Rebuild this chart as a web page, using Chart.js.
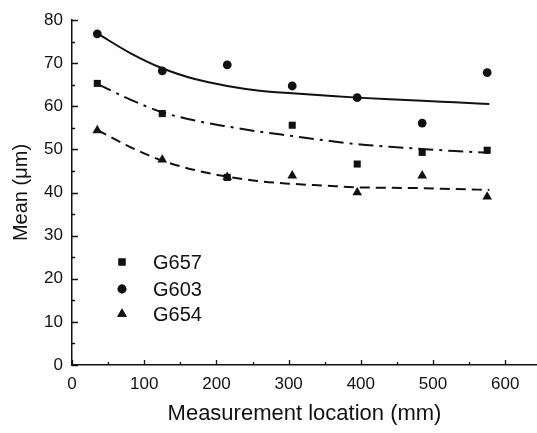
<!DOCTYPE html>
<html>
<head>
<meta charset="utf-8">
<title>Mean vs measurement location</title>
<script src="https://cdn.jsdelivr.net/npm/chart.js@4/dist/chart.umd.min.js"></script>
<style>
    html, body { margin: 0; padding: 0; background: #fff; }
    #chart-wrap { width: 537px; height: 433px; }
</style>
</head>
<body>
<div id="chart-wrap"><canvas id="chart-mean" width="537" height="433"></canvas></div>
<script>
// =====================================================
// DATA
// =====================================================

const seriesNames = ['G657', 'G603', 'G654'];

// measurement locations (mm)
const locations = [35, 125, 215, 305, 395, 485, 575];

// measured means (um)
const g657Values = [65.3, 58.3, 43.5, 55.6, 46.6, 49.3, 49.8];
const g603Values = [76.8, 68.2, 69.6, 64.7, 62.0, 56.1, 67.8];
const g654Values = [54.4, 47.6, 43.6, 43.9, 40.0, 43.9, 39.0];

// fitted curves
const fitLocations = [35, 80, 125, 170, 215, 260, 305, 350, 395, 440, 485, 530, 578];
const g657Fit = [65.2, 61.6, 58.6, 56.7, 55.3, 54.1, 53.1, 52.1, 51.2, 50.6, 50.1, 49.6, 49.2];
const g603Fit = [76.9, 72.4, 68.8, 66.3, 64.7, 63.6, 63.0, 62.5, 62.0, 61.6, 61.3, 60.9, 60.5];
const g654Fit = [54.5, 50.6, 47.4, 45.2, 43.7, 42.6, 42.0, 41.6, 41.2, 41.1, 41.0, 40.8, 40.6];

// axis ticks
const xTicks = [0, 100, 200, 300, 400, 500, 600];
const xMinorTicks = [50, 150, 250, 350, 450, 550];
const yTicks = [0, 10, 20, 30, 40, 50, 60, 70, 80];
const yMinorTicks = [5, 15, 25, 35, 45, 55, 65, 75];

// =====================================================
// CONFIG
// =====================================================

const ChartConfig = {
    canvasId: 'chart-mean',
    ink: '#111111',
    font: "'Liberation Sans', Arial, sans-serif",
    xMax: 644,
    markers: {
        G657: { style: 'rect', radius: 5 },
        G603: { style: 'circle', radius: 4.4 },
        G654: { style: 'triangle', radius: 5.6 }
    },
    legend: { markerX: 50, textX: 81, rows: [242, 269, 294] }
};

function toPoints(xs, ys) {
    return xs.map((x, i) => ({ x: x, y: ys[i] }));
}

/**
 * Scatter dataset for one sample
 */
function markerDataset(name, values) {
    const m = ChartConfig.markers[name];
    return {
        label: name,
        data: toPoints(locations, values),
        showLine: false,
        pointStyle: m.style,
        pointRadius: m.radius,
        pointHoverRadius: m.radius,
        pointBackgroundColor: ChartConfig.ink,
        pointBorderColor: ChartConfig.ink,
        pointBorderWidth: 0
    };
}

/**
 * Fitted line for one sample
 */
function fitDataset(name, values, dash) {
    return {
        label: name + ' fit',
        data: toPoints(fitLocations, values),
        showLine: true,
        borderColor: ChartConfig.ink,
        borderWidth: 2,
        borderDash: dash,
        cubicInterpolationMode: 'monotone',
        pointRadius: 0,
        pointHoverRadius: 0,
        fill: false
    };
}

// =====================================================
// PLUGINS
// =====================================================

// inward major / minor ticks like the original plot
const inwardTicks = {
    id: 'inwardTicks',
    afterDraw(chart) {
        const ctx = chart.ctx;
        const xs = chart.scales.x;
        const ys = chart.scales.y;
        const area = chart.chartArea;
        ctx.save();
        ctx.strokeStyle = ChartConfig.ink;
        ctx.lineWidth = 1.3;
        ctx.beginPath();
        xTicks.forEach(v => {
            const px = Math.round(xs.getPixelForValue(v)) + 0.5;
            ctx.moveTo(px, area.bottom); ctx.lineTo(px, area.bottom - 5);
        });
        xMinorTicks.forEach(v => {
            const px = Math.round(xs.getPixelForValue(v)) + 0.5;
            ctx.moveTo(px, area.bottom); ctx.lineTo(px, area.bottom - 3);
        });
        yTicks.forEach(v => {
            const py = Math.round(ys.getPixelForValue(v)) + 0.5;
            ctx.moveTo(area.left, py); ctx.lineTo(area.left + 6, py);
        });
        yMinorTicks.forEach(v => {
            const py = Math.round(ys.getPixelForValue(v)) + 0.5;
            ctx.moveTo(area.left, py); ctx.lineTo(area.left + 3, py);
        });
        ctx.stroke();
        ctx.restore();
    }
};

// legend inside the plot, markers only
const innerLegend = {
    id: 'innerLegend',
    afterDraw(chart) {
        const ctx = chart.ctx;
        const area = chart.chartArea;
        const cfg = ChartConfig.legend;
        ctx.save();
        ctx.font = '20px ' + ChartConfig.font;
        ctx.fillStyle = ChartConfig.ink;
        ctx.textBaseline = 'middle';
        seriesNames.forEach((name, i) => {
            const m = ChartConfig.markers[name];
            const y = area.top + cfg.rows[i];
            Chart.helpers.drawPoint(ctx, {
                pointStyle: m.style,
                radius: m.radius,
                rotation: 0,
                borderWidth: 0
            }, area.left + cfg.markerX, y);
            ctx.fillStyle = ChartConfig.ink;
            ctx.fill();
            ctx.fillText(name, area.left + cfg.textX, y + 1);
        });
        ctx.restore();
    }
};

// =====================================================
// CHART
// =====================================================

function criarGrafico() {
    const ctx = document.getElementById(ChartConfig.canvasId);
    if (!ctx) return;

    Chart.defaults.font.family = ChartConfig.font;
    Chart.defaults.color = ChartConfig.ink;

    new Chart(ctx, {
        type: 'scatter',
        data: {
            datasets: [
                fitDataset('G603', g603Fit, []),
                fitDataset('G657', g657Fit, [15, 6, 3, 6]),
                fitDataset('G654', g654Fit, [10, 6]),
                markerDataset('G657', g657Values),
                markerDataset('G603', g603Values),
                markerDataset('G654', g654Values)
            ]
        },
        options: {
            responsive: false,
            animation: false,
            layout: { autoPadding: false, padding: { top: 20, right: 0, bottom: 0, left: 0 } },
            plugins: {
                legend: { display: false },
                tooltip: { enabled: false }
            },
            scales: {
                x: {
                    type: 'linear',
                    min: 0,
                    max: ChartConfig.xMax,
                    afterBuildTicks: s => { s.ticks = xTicks.map(v => ({ value: v })); },
                    afterFit: s => { s.height = 68; s.paddingRight = 0; },
                    grid: { display: false, drawTicks: false },
                    border: { display: true, color: ChartConfig.ink, width: 1.5 },
                    ticks: { font: { size: 17 }, padding: 9, maxRotation: 0 },
                    title: {
                        display: true,
                        text: 'Measurement location (mm)',
                        font: { size: 22 },
                        padding: { top: 0, bottom: 6 }
                    }
                },
                y: {
                    type: 'linear',
                    min: 0,
                    max: 80,
                    afterBuildTicks: s => { s.ticks = yTicks.map(v => ({ value: v })); },
                    afterFit: s => { s.width = 72; },
                    grid: { display: false, drawTicks: false },
                    border: { display: true, color: ChartConfig.ink, width: 1.5 },
                    ticks: { font: { size: 17 }, padding: 9 },
                    title: {
                        display: true,
                        text: 'Mean (\u03bcm)',
                        font: { size: 20 },
                        padding: { top: 9, bottom: 0 }
                    }
                }
            }
        },
        plugins: [inwardTicks, innerLegend]
    });
}

criarGrafico();
</script>
</body>
</html>
